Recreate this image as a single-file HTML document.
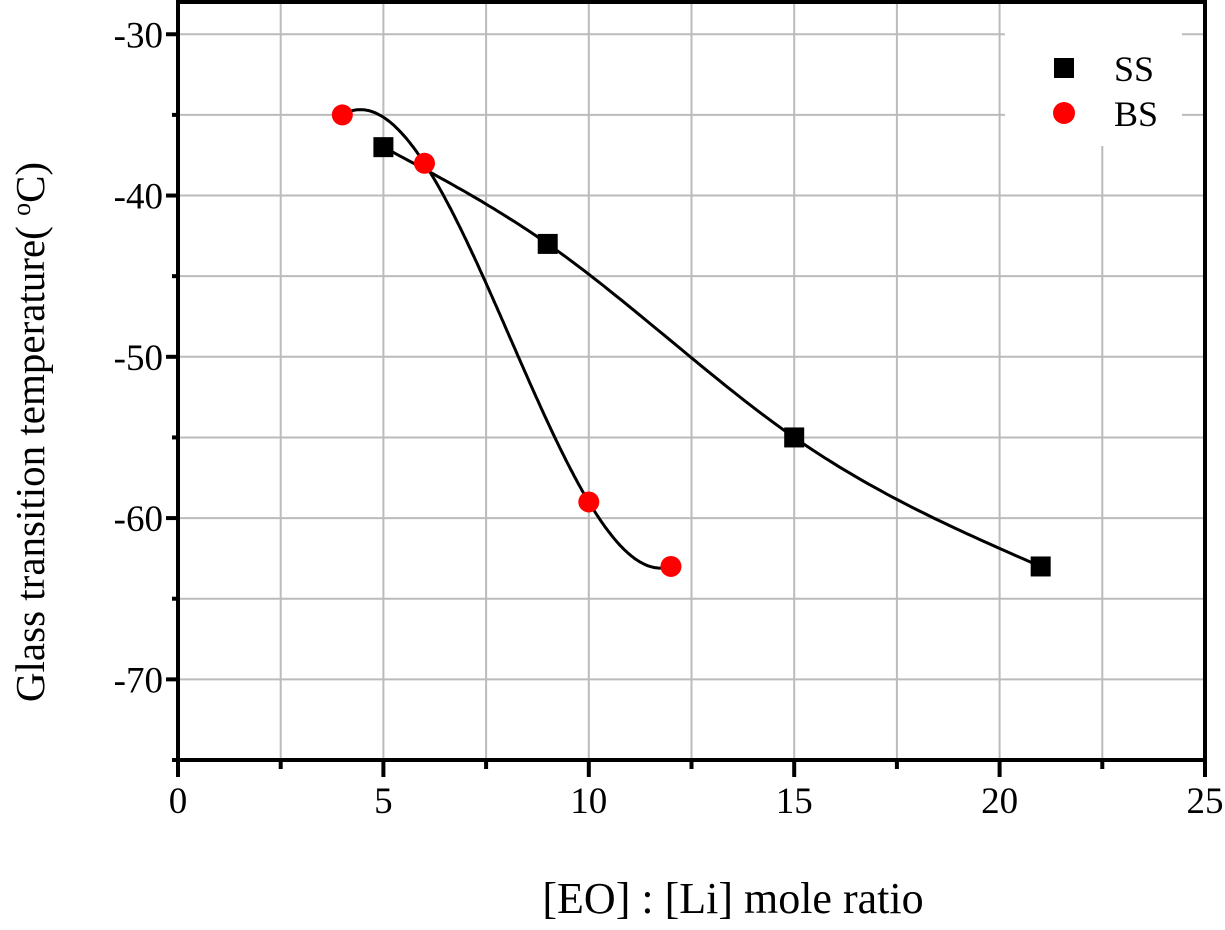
<!DOCTYPE html>
<html><head><meta charset="utf-8"><style>
body{margin:0;background:#fff}
svg text{font-family:"Liberation Serif",serif;fill:#000}
</style></head><body>
<svg id="chart" width="1225" height="925" xmlns="http://www.w3.org/2000/svg"></svg>
<script>
const ssX=[5,9,15,21];
const ssY=[-37,-43,-55,-63];
const bsX=[4,6,10,12];
const bsY=[-35,-38,-59,-63];
const xTicks=[0,5,10,15,20,25];
const yTicks=[-30,-40,-50,-60,-70];

const L=178,R=1205,T=2,B=760,x0=0,x1=25,y0=-75,y1=-28;
const sx=v=>L+(v-x0)/(x1-x0)*(R-L);
const sy=v=>B-(v-y0)/(y1-y0)*(B-T);
const svg=document.getElementById('chart');
const NS='http://www.w3.org/2000/svg';
function mk(tag,attrs,parent){const e=document.createElementNS(NS,tag);for(const k in attrs)e.setAttribute(k,attrs[k]);(parent||svg).appendChild(e);return e;}

const grid=mk('g',{});


for(let v=2.5;v<25;v+=2.5)mk('line',{x1:sx(v),x2:sx(v),y1:T,y2:B,stroke:'#bbb','stroke-width':2},grid);
for(let v=-70;v<=-30;v+=5)mk('line',{x1:L,x2:R,y1:sy(v),y2:sy(v),stroke:'#bbb','stroke-width':2},grid);

const lg=mk('g',{});


mk('rect',{x:1005,y:4,width:177,height:142,fill:'#fff'},lg);

function spline(xs,ys){
  const n=xs.length,h=[],a=[],l=[1],mu=[0],z=[0],c=new Array(n).fill(0),b=[],d=[];
  for(let i=0;i<n-1;i++)h[i]=xs[i+1]-xs[i];
  for(let i=1;i<n-1;i++)a[i]=3/h[i]*(ys[i+1]-ys[i])-3/h[i-1]*(ys[i]-ys[i-1]);
  for(let i=1;i<n-1;i++){l[i]=2*(xs[i+1]-xs[i-1])-h[i-1]*mu[i-1];mu[i]=h[i]/l[i];z[i]=(a[i]-h[i-1]*z[i-1])/l[i];}
  for(let j=n-2;j>=0;j--){c[j]=z[j]-mu[j]*c[j+1];if(j===0)c[0]=0;b[j]=(ys[j+1]-ys[j])/h[j]-h[j]*(c[j+1]+2*c[j])/3;d[j]=(c[j+1]-c[j])/(3*h[j]);}
  let p='';
  for(let i=0;i<n-1;i++)for(let k=0;k<=40;k++){const t=h[i]*k/40;const y=ys[i]+b[i]*t+c[i]*t*t+d[i]*t*t*t;p+=(p?'L':'M')+sx(xs[i]+t).toFixed(1)+','+sy(y).toFixed(1);}
  return p;
}
function curve(xs,ys){
  const n=xs.length;
  const f=x=>{let s=0;for(let i=0;i<n;i++){let p=ys[i];for(let j=0;j<n;j++)if(j!==i)p*=(x-xs[j])/(xs[i]-xs[j]);s+=p;}return s;};
  let p='';const a=xs[0],b=xs[n-1];
  for(let k=0;k<=200;k++){const x=a+(b-a)*k/200;p+=(p?'L':'M')+sx(x).toFixed(1)+','+sy(f(x)).toFixed(1);}
  return p;
}
const ssLine=mk('path',{d:spline(ssX,ssY),fill:'none',stroke:'#000','stroke-width':3});


const bsLine=mk('path',{d:curve(bsX,bsY),fill:'none',stroke:'#000','stroke-width':3});



ssX.forEach((v,i)=>{const r=mk('rect',{x:sx(v)-10,y:sy(ssY[i])-10,width:20,height:20,fill:'#000'});

});
bsX.forEach((v,i)=>{const c=mk('circle',{cx:sx(v),cy:sy(bsY[i]),r:10.5,fill:'#f00'});

});

mk('rect',{x:1054,y:58,width:20,height:20,fill:'#000'},lg);
const t1=mk('text',{x:1114,y:81,'font-size':36},lg);t1.textContent='SS';
mk('circle',{cx:1064,cy:113,r:11,fill:'#f00'},lg);
const t2=mk('text',{x:1114,y:126,'font-size':36},lg);t2.textContent='BS';

mk('rect',{x:L,y:T,width:R-L,height:B-T,fill:'none',stroke:'#000','stroke-width':4});
const xa=mk('g',{});


for(let v=0;v<=25;v+=2.5){const maj=v%5===0;mk('line',{x1:sx(v),x2:sx(v),y1:B,y2:B+(maj?17:9),stroke:'#000','stroke-width':4},xa);}
xTicks.forEach(v=>{const t=mk('text',{x:sx(v),y:B+53,'font-size':37,'text-anchor':'middle'},xa);t.textContent=v;});
const ya=mk('g',{});


for(let v=-75;v<=-30;v+=5){const maj=v%10===0;mk('line',{x1:L,x2:L-(maj?12:6),y1:sy(v),y2:sy(v),stroke:'#000','stroke-width':4},ya);}
yTicks.forEach(v=>{const t=mk('text',{x:L-15,y:sy(v)+13,'font-size':37,'text-anchor':'end'},ya);t.textContent=v;});

const xt=mk('text',{x:733,y:913,'font-size':44,'text-anchor':'middle'});
xt.textContent='[EO] : [Li] mole ratio';


const yt=mk('text',{x:0,y:0,'font-size':41,'text-anchor':'middle',transform:'translate(44,432) rotate(-90)'});
yt.innerHTML='Glass transition temperature( <tspan font-size="26" dy="-14">o</tspan><tspan dy="14">C)</tspan>';


</script>
</body></html>
